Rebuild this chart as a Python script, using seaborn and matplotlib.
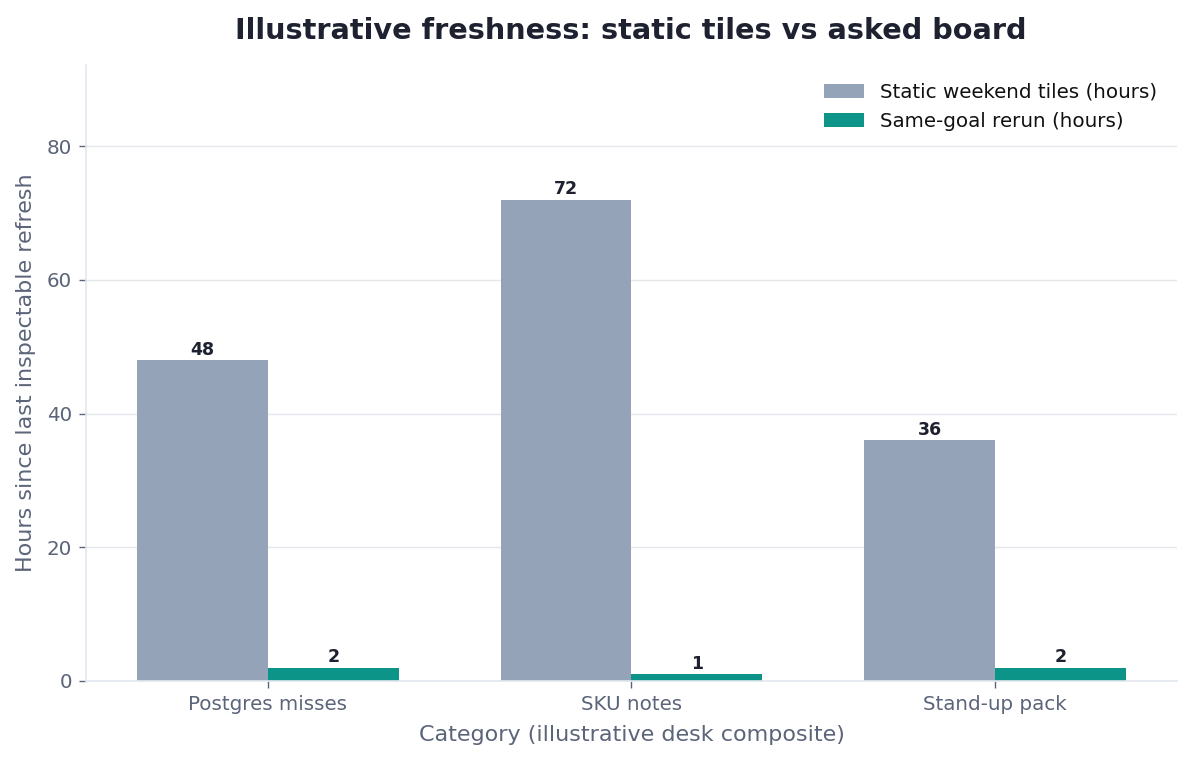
import pandas as pd
import numpy as np
import matplotlib
matplotlib.use("Agg")
import matplotlib.pyplot as plt
import seaborn as sns

categories = ["Postgres misses", "SKU notes", "Stand-up pack"]
static_hours = [48, 72, 36]
rerun_hours = [2, 1, 2]
series_names = ["Static weekend tiles (hours)", "Same-goal rerun (hours)"]

df = pd.DataFrame({
    "Category": categories * 2,
    "Hours": static_hours + rerun_hours,
    "Series": [series_names[0]] * 3 + [series_names[1]] * 3,
})

sns.set_theme(style="white")
plt.rcParams['font.family'] = ['DejaVu Sans']

text_col = "#5b6478"
dark_col = "#1e2130"
spine_col = "#e2e8f0"

fig = plt.figure(figsize=(11.93, 7.6), dpi=100)
ax = fig.add_axes([0.072, 0.104, 0.9146, 0.8106])

sns.barplot(data=df, x="Category", y="Hours", hue="Series",
            palette=["#94a3b8", "#0d9488"], width=0.72, gap=0,
            saturation=1, linewidth=0, ax=ax)

for cont in ax.containers:
    for p in cont:
        h = p.get_height()
        ax.annotate(format(h, '.0f'), (p.get_x() + p.get_width() / 2., h),
                    ha='center', va='bottom', xytext=(0, 1),
                    textcoords='offset points', fontsize=12.5,
                    fontweight='bold', color=dark_col)

ax.set_ylim(0, max(static_hours) * 1.28)
ax.set_xlim(-0.5, 2.5)
ax.yaxis.grid(True, color="#e5e7eb", linewidth=1)
ax.set_axisbelow(True)
for s in ["top", "right"]:
    ax.spines[s].set_visible(False)
for s in ["left", "bottom"]:
    ax.spines[s].set_color(spine_col)
    ax.spines[s].set_linewidth(1.2)
ax.tick_params(axis='both', colors=text_col, labelsize=14.3, length=5,
               width=1, bottom=True, left=True, pad=5)
ax.set_yticks([0, 20, 40, 60, 80])

ax.set_xlabel("Category (illustrative desk composite)", fontsize=16, color=text_col, labelpad=8)
ax.set_ylabel("Hours since last inspectable refresh", fontsize=16, color=text_col, labelpad=8)
fig.suptitle("Illustrative freshness: static tiles vs asked board", fontsize=20.7,
             fontweight='bold', color=dark_col, y=0.977, x=0.529)

leg = ax.legend(frameon=False, fontsize=14.3, loc="upper right",
                handlelength=2.0, handleheight=0.7, title=None,
                bbox_to_anchor=(0.998, 1.0))
for t in leg.get_texts():
    t.set_color("#111111")

fig.savefig("out.png", dpi=100)
